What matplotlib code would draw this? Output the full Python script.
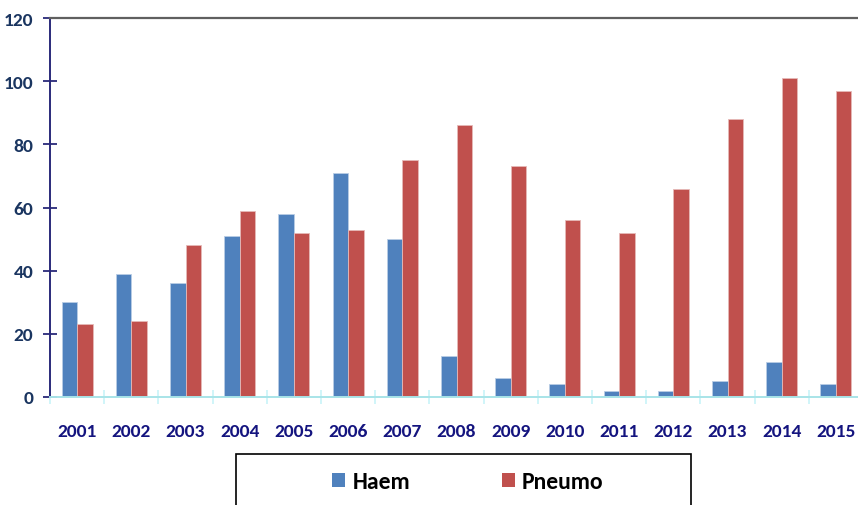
import matplotlib
matplotlib.use("Agg")
import matplotlib.pyplot as plt
from matplotlib.patches import Rectangle
import numpy as np

years = ["2001", "2002", "2003", "2004", "2005", "2006", "2007", "2008",
         "2009", "2010", "2011", "2012", "2013", "2014", "2015"]
haem = [30, 39, 36, 51, 58, 71, 50, 13, 6, 4, 2, 2, 5, 11, 4]
pneumo = [23, 24, 48, 59, 52, 53, 75, 86, 73, 56, 52, 66, 88, 101, 97]
yticks = [0, 20, 40, 60, 80, 100, 120]

font = ["Carlito", "DejaVu Sans"]
plt.rcParams["font.family"] = font

W, H = 858, 506
fig = plt.figure(figsize=(W / 100, H / 100), dpi=100)
ax = fig.add_axes([50 / W, (H - 398) / H, 813 / W, 379 / H])

x = np.arange(len(years))
bw = 0.285
c_blue = "#4f81bd"
c_red = "#c0504d"
b1 = ax.bar(x - bw / 2, haem, bw, color=c_blue, edgecolor="#b9cde5", linewidth=0.6, label="Haem", zorder=2)
b2 = ax.bar(x + bw / 2, pneumo, bw, color=c_red, edgecolor="#e6b9b8", linewidth=0.6, label="Pneumo", zorder=2)

ax.set_xlim(-0.5, len(years) - 0.5)
ax.set_ylim(0, 120)

ax.spines["right"].set_visible(False)
ax.spines["top"].set_color("#606060")
ax.spines["top"].set_linewidth(1.6)
ax.spines["left"].set_color("#2a2a7a")
ax.spines["left"].set_linewidth(1.4)
ax.spines["bottom"].set_color("#a8e4e8")
ax.spines["bottom"].set_linewidth(1.4)

ax.set_yticks(yticks)
ax.set_yticklabels([str(v) for v in yticks], fontsize=14, fontweight="bold", color="#1a3560")
ax.tick_params(axis="y", direction="inout", length=10, width=1.3, color="#2a2a7a", pad=7)

ax.set_xticks(x)
ax.set_xticklabels(years, fontsize=14, fontweight="bold", color="#14147f")
ax.tick_params(axis="x", length=0, pad=19)
ax.set_xticks(np.arange(len(years) + 1) - 0.5, minor=True)
ax.tick_params(axis="x", which="minor", direction="inout", length=10, width=1.2, color="#c8f4f8")

# legend frame
frame = Rectangle((236 / W, -0.01), (691 - 236) / W, (H - 455) / H + 0.01, transform=fig.transFigure,
                  facecolor="white", edgecolor="black", linewidth=1.2, clip_on=False)
fig.patches.append(frame)
leg = fig.legend(handles=[b1, b2], loc="center", bbox_to_anchor=(468 / W, (H - 483) / H),
                 ncol=2, frameon=False, handlelength=0.55, handleheight=0.55, handletextpad=0.3,
                 columnspacing=3.9, prop={"family": font, "weight": "bold", "size": 17})
for h in leg.legend_handles:
    h.set_edgecolor("none")

fig.savefig("out.png", dpi=100)
